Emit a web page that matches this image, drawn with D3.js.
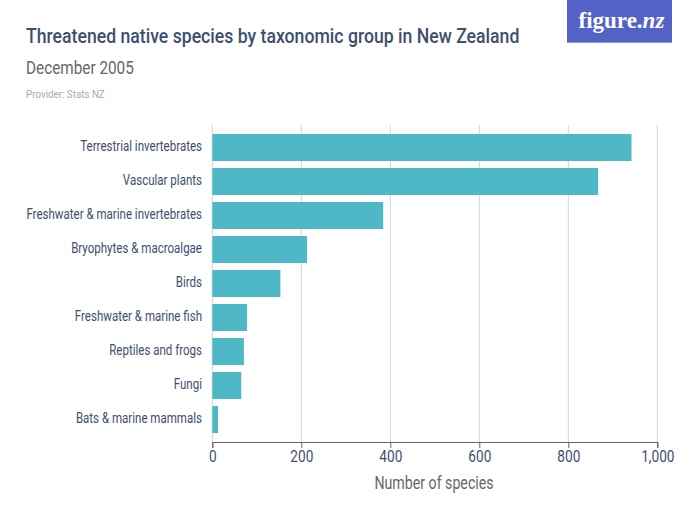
<!DOCTYPE html>
<html>
<head>
<meta charset="utf-8">
<script src="https://cdn.jsdelivr.net/npm/d3@7"></script>
<style>
body { margin: 0; background: #fff; }
text { font-family: Roboto, sans-serif; }
</style>
</head>
<body>
<div id="chart"></div>
<script>
var groups = ["Terrestrial invertebrates", "Vascular plants", "Freshwater & marine invertebrates",
    "Bryophytes & macroalgae", "Birds", "Freshwater & marine fish", "Reptiles and frogs", "Fungi",
    "Bats & marine mammals"];
var species = [942, 867, 384, 213, 153, 78, 71, 65, 13];
var x_ticks = [0, 200, 400, 600, 800, 1000];

// the reference face is a condensed grotesque, so squeeze Roboto to fit
function condense(sel, factor) {
    sel.each(function() {
	var len = this.getComputedTextLength();
	d3.select(this).attr("textLength", len * factor).attr("lengthAdjust", "spacingAndGlyphs");
    });
}

var svg = d3.select("#chart").append("svg")
    .attr("width", 700)
    .attr("height", 525)
    .style("display", "block");

// logo
svg.append("rect").attr("x", 567).attr("y", 0).attr("width", 105).attr("height", 42).style("fill", "#5262c7");
svg.append("rect").attr("x", 567).attr("y", 42).attr("width", 105).attr("height", 1).style("fill", "#8e99dd");
var logo_word = svg.append("text").attr("x", 578.5).attr("y", 28).text("figure.")
    .style("font-family", "Liberation Serif").style("font-size", "23px")
    .style("font-weight", "bold").style("fill", "#fff");
svg.append("text").attr("x", 578.5 + logo_word.node().getComputedTextLength()).attr("y", 28).text("nz")
    .style("font-family", "Liberation Serif").style("font-size", "23px")
    .style("font-weight", "bold").style("font-style", "italic").style("fill", "#fff");

// headings
svg.append("text").attr("x", 26).attr("y", 43).text("Threatened native species by taxonomic group in New Zealand")
    .style("font-size", "21px").style("font-weight", "500").style("fill", "#3e4e6f")
    .call(condense, 0.84);
svg.append("text").attr("x", 26).attr("y", 74).text("December 2005")
    .style("font-size", "18px").style("fill", "#666")
    .call(condense, 0.85);
svg.append("text").attr("x", 26).attr("y", 98).text("Provider: Stats NZ")
    .style("font-size", "11px").style("fill", "#aaa")
    .call(condense, 0.89);

var x_scale = d3.scaleLinear().domain([0, 1000]).range([212.3, 657.3]);
var y_scale = d3.scaleBand().domain(groups).range([130.5, 436.5]).paddingInner(0.206).paddingOuter(0.103);

svg.selectAll(".grid").data(x_ticks).enter().append("line")
    .attr("class", "grid")
    .attr("x1", d => x_scale(d))
    .attr("x2", d => x_scale(d))
    .attr("y1", 125)
    .attr("y2", 442)
    .style("stroke", "#d4d4d4");

svg.selectAll(".bar").data(groups).enter().append("rect")
    .attr("class", "bar")
    .attr("x", x_scale(0))
    .attr("y", d => y_scale(d))
    .attr("width", (d, i) => x_scale(species[i]) - x_scale(0))
    .attr("height", y_scale.bandwidth())
    .style("fill", "#4fb8c6");

svg.selectAll(".group_label").data(groups).enter().append("text")
    .attr("class", "group_label")
    .attr("x", 202)
    .attr("y", d => y_scale(d) + y_scale.bandwidth() / 2 + 3.5)
    .attr("text-anchor", "end")
    .text(d => d)
    .style("font-size", "14.5px")
    .style("fill", "#3e4e6f")
    .call(condense, 0.795);

var x_axis = svg.append("g")
    .attr("transform", "translate(0,442)")
    .call(d3.axisBottom(x_scale).tickValues(x_ticks).tickSize(6).tickPadding(3).tickFormat(d3.format(",")));
x_axis.select(".domain").style("stroke", "#666").style("stroke-width", 1);
x_axis.selectAll(".tick line").style("stroke", "#666");
x_axis.selectAll(".tick text").style("font-size", "16px").style("fill", "#3e4e6f")
    .style("font-family", "Roboto")
    .call(condense, 0.85);

svg.append("text").attr("x", 434).attr("y", 489).attr("text-anchor", "middle")
    .text("Number of species")
    .style("font-size", "17.5px").style("fill", "#666")
    .call(condense, 0.81);
</script>
</body>
</html>
